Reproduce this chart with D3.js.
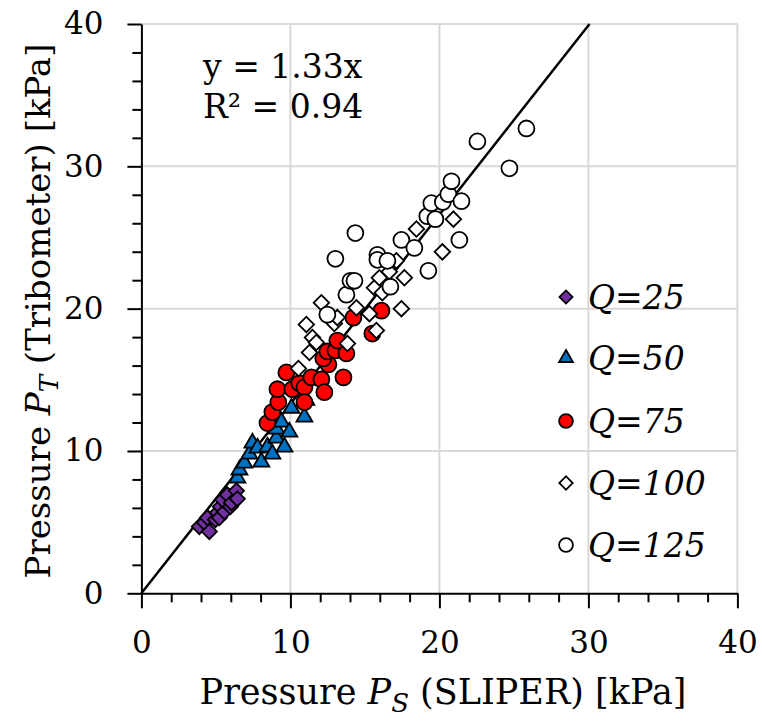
<!DOCTYPE html>
<html>
<head>
<meta charset="utf-8">
<script src="https://cdnjs.cloudflare.com/ajax/libs/d3/7.8.5/d3.min.js"></script>
<style>
  body { margin: 0; background: #fff; }
</style>
</head>
<body>
<div id="canvas"></div>
<script>
// data (kPa)
const q25x = [3.89, 4.23, 4.43, 4.56, 4.97, 5.10, 5.23, 5.30, 5.57, 5.44, 5.77, 5.97, 6.04, 6.38, 6.44];
const q25y = [4.69, 4.97, 5.31, 4.34, 5.17, 5.66, 5.31, 6.08, 5.73, 6.57, 6.92, 6.08, 6.36, 7.20, 6.64];

const q50x = [6.44, 6.58, 6.91, 7.25, 7.45, 7.79, 8.05, 8.46, 8.79, 9.06, 9.06, 9.40, 9.60, 9.93, 10.07, 10.94, 11.07];
const q50y = [8.11, 8.67, 9.16, 9.79, 10.56, 10.21, 9.23, 10.28, 9.79, 10.91, 11.54, 12.03, 10.28, 11.33, 13.01, 12.38, 13.57];

const q75x = [8.46, 8.79, 9.19, 9.13, 9.73, 10.13, 10.60, 10.94, 10.94, 11.41, 12.08, 12.28, 12.55, 12.21, 12.48, 13.02, 13.15, 13.56, 13.76, 14.23, 15.50, 16.11];
const q75y = [11.96, 12.73, 13.43, 14.34, 15.52, 14.34, 14.76, 14.48, 13.43, 15.17, 15.03, 14.13, 16.08, 16.50, 16.99, 17.06, 17.76, 15.17, 16.85, 19.37, 18.25, 19.86];

const q100x = [10.54, 11.07, 11.28, 11.48, 11.74, 12.08, 12.95, 13.15, 13.83, 14.43, 15.30, 15.77, 15.64, 15.97, 16.17, 16.64, 17.11, 17.45, 17.65, 18.46, 20.20, 20.94];
const q100y = [15.80, 18.88, 16.92, 17.97, 17.62, 20.42, 18.95, 19.37, 17.55, 20.07, 19.65, 18.46, 21.47, 22.17, 21.12, 22.59, 23.36, 20.00, 22.17, 25.59, 23.99, 26.29];

const q125x = [12.48, 13.76, 14.03, 14.30, 13.02, 14.36, 15.84, 15.84, 16.51, 16.71, 17.45, 18.32, 19.26, 19.19, 19.73, 19.46, 20.23, 20.60, 20.81, 21.48, 21.34, 22.55, 24.70, 25.84];
const q125y = [19.58, 20.98, 21.96, 21.96, 23.50, 25.31, 23.78, 23.43, 23.36, 21.54, 24.83, 24.27, 22.66, 26.50, 26.29, 27.41, 27.50, 28.04, 28.95, 27.55, 24.83, 31.75, 29.86, 32.66];

const legendLabels = ["Q=25", "Q=50", "Q=75", "Q=100", "Q=125"];
const majorTicks = [0, 10, 20, 30, 40];
const minorTicks = [2, 4, 6, 8, 12, 14, 16, 18, 22, 24, 26, 28, 32, 34, 36, 38];
const slope = 1.33;
const eqLines = ["y = 1.33x", "R² = 0.94"];

const font = "'DejaVu Serif', 'Liberation Serif', serif";
const w = 762;
const h = 722;
const margin = { top: 24, bottom: 128.7, left: 141.4, right: 24.6 };

const x = d3.scaleLinear().domain([0, 40]).range([margin.left, w - margin.right]);
const y = d3.scaleLinear().domain([0, 40]).range([h - margin.bottom, margin.top]);

const svg = d3.select("#canvas").append("svg")
  .attr("width", w)
  .attr("height", h)
  .style("font-family", font);

// gridlines
const grid = svg.append("g").attr("stroke", "#d9d9d9").attr("stroke-width", 2);
grid.selectAll(".vx").data(majorTicks.slice(1)).enter().append("line")
  .attr("x1", d => x(d)).attr("x2", d => x(d))
  .attr("y1", y(0)).attr("y2", y(40));
grid.selectAll(".hy").data(majorTicks.slice(1)).enter().append("line")
  .attr("x1", x(0)).attr("x2", x(40))
  .attr("y1", d => y(d)).attr("y2", d => y(d));

// minor ticks
svg.append("g").attr("transform", `translate(0,${y(0)})`)
  .call(d3.axisBottom(x).tickValues(minorTicks).tickSize(9).tickSizeOuter(0).tickFormat(""))
  .call(g => g.select(".domain").remove())
  .selectAll("line").attr("stroke-width", 2);
svg.append("g").attr("transform", `translate(${x(0)},0)`)
  .call(d3.axisLeft(y).tickValues(minorTicks).tickSize(9).tickSizeOuter(0).tickFormat(""))
  .call(g => g.select(".domain").remove())
  .selectAll("line").attr("stroke-width", 2);

// major axes
const xAxis = svg.append("g").attr("transform", `translate(0,${y(0)})`)
  .call(d3.axisBottom(x).tickValues(majorTicks).tickSize(15).tickSizeOuter(0).tickPadding(23));
const yAxis = svg.append("g").attr("transform", `translate(${x(0)},0)`)
  .call(d3.axisLeft(y).tickValues(majorTicks).tickSize(14).tickSizeOuter(0).tickPadding(24));
[xAxis, yAxis].forEach(a => {
  a.attr("font-family", null).attr("font-size", null);
  a.select(".domain").attr("stroke-width", 2);
  a.selectAll("line").attr("stroke-width", 2);
  a.selectAll("text").style("font-family", font).style("font-size", "31px");
});

// regression line
const fit = [0, 40 / slope];
svg.append("path")
  .datum(fit)
  .attr("fill", "none")
  .attr("stroke", "#000")
  .attr("stroke-width", 2.5)
  .attr("d", d3.line().x(d => x(d)).y(d => y(d * slope)));

// series
const series = [
  { xs: q25x, ys: q25y, type: d3.symbolSquare, size: 115, rot: 45, fill: "#7030a0" },
  { xs: q50x, ys: q50y, type: d3.symbolTriangle, size: 110, rot: 0, fill: "#0070c0" },
  { xs: q75x, ys: q75y, type: d3.symbolCircle, size: 200, rot: 0, fill: "#ff0000" },
  { xs: q100x, ys: q100y, type: d3.symbolSquare, size: 120, rot: 45, fill: "#ffffff" },
  { xs: q125x, ys: q125y, type: d3.symbolCircle, size: 200, rot: 0, fill: "#ffffff" }
];

series.forEach(s => {
  const pts = s.xs.map((v, i) => [v, s.ys[i]]);
  svg.append("g").selectAll("path")
    .data(pts)
    .enter()
    .append("path")
    .attr("d", d3.symbol().type(s.type).size(s.size))
    .attr("transform", d => `translate(${x(d[0])},${y(d[1])}) rotate(${s.rot})`)
    .attr("fill", s.fill)
    .attr("stroke", "#000")
    .attr("stroke-width", 1.8);
});

// legend
const legend = svg.append("g");
const rowsY = [297, 358, 421, 483, 545];
legendLabels.forEach((lab, i) => {
  const s = series[i];
  legend.append("path")
    .attr("d", d3.symbol().type(s.type).size(s.size * 0.75))
    .attr("transform", `translate(566,${rowsY[i]}) rotate(${s.rot})`)
    .attr("fill", s.fill)
    .attr("stroke", "#000")
    .attr("stroke-width", 1.8);
  legend.append("text")
    .attr("x", 588)
    .attr("y", rowsY[i] + 12)
    .style("font-family", font)
    .style("font-size", "33px")
    .style("font-style", "italic")
    .text(lab);
});

// equation
eqLines.forEach((t, i) => {
  svg.append("text")
    .attr("x", 203)
    .attr("y", 78 + i * 40)
    .style("font-family", font)
    .style("font-size", "33px")
    .text(t);
});

// axis titles
const xt = svg.append("text")
  .attr("x", 443)
  .attr("y", 704)
  .attr("text-anchor", "middle")
  .style("font-family", font)
  .style("font-size", "35px");
xt.append("tspan").text("Pressure ");
xt.append("tspan").style("font-style", "italic").text("P");
xt.append("tspan").style("font-style", "italic").style("font-size", "26px").attr("dy", 8).text("S");
xt.append("tspan").attr("dy", -8).text(" (SLIPER) [kPa]");

const yt = svg.append("text")
  .attr("transform", "translate(50,311) rotate(-90)")
  .attr("text-anchor", "middle")
  .style("font-family", font)
  .style("font-size", "34px");
yt.append("tspan").text("Pressure ");
yt.append("tspan").style("font-style", "italic").text("P");
yt.append("tspan").style("font-style", "italic").style("font-size", "26px").attr("dy", 8).text("T");
yt.append("tspan").attr("dy", -8).text(" (Tribometer) [kPa]");
</script>
</body>
</html>
